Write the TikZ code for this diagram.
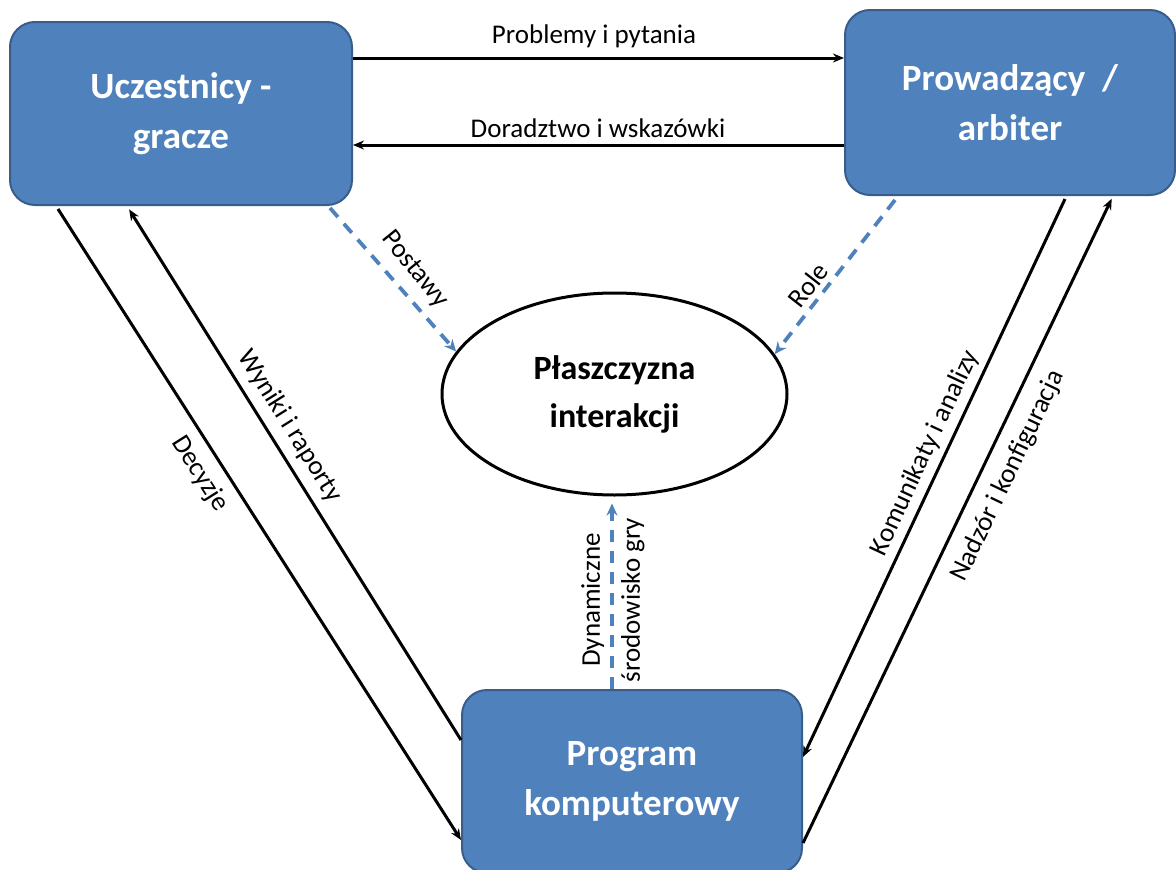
\documentclass[tikz,border=0pt]{standalone}
\usepackage{fontspec}
\setmainfont{Carlito}
\usetikzlibrary{arrows.meta,shapes.geometric}
\definecolor{boxblue}{RGB}{79,129,189}
\definecolor{boxborder}{RGB}{56,93,138}
\begin{document}
\begin{tikzpicture}[x=1pt,y=-1pt,
  actor/.style={draw=boxborder, line width=2pt, fill=boxblue, rounded corners=25pt,
    text=white, font=\fontsize{37}{50}\selectfont\bfseries, align=center, inner sep=0pt},
  plane/.style={ellipse, draw, line width=3pt, inner sep=0pt,
    font=\fontsize{34}{48}\selectfont\bfseries, align=center},
  flow/.style={line width=3pt, -{Stealth[length=11pt,width=9pt]}},
  infl/.style={line width=3.8pt, draw=boxblue, dash pattern=on 12pt off 9pt,
    -{Stealth[length=12pt,width=11pt,fill=boxblue]}},
  lab/.style={font=\fontsize{27}{40}\selectfont, inner sep=0pt, align=center},
]
\useasboundingbox (0,0) rectangle (1176,870);

\node[actor, minimum width=342pt, minimum height=183pt] (A) at (181,113.5) {Uczestnicy -\\gracze};
\node[actor, minimum width=330pt, minimum height=185pt] (B) at (1010,102.5) {Prowadzący~~/\\arbiter};
\node[actor, minimum width=340pt, minimum height=183pt] (C) at (632,781.5) {Program\\komputerowy};
\node[plane, minimum width=345pt, minimum height=202pt] (E) at (614.5,394) {Płaszczyzna\\interakcji};

% horizontal connectors
\draw[flow] ([yshift=55.5pt]A.east) -- ([yshift=44.5pt]B.west);
\draw[flow] ([yshift=-42.5pt]B.west) -- ([yshift=-31.5pt]A.east);
\node[lab] (l1) at (594,36) {Problemy i pytania};
\node[lab] (l2) at (598,128) {Doradztwo i wskazówki};

% left connectors
\draw[flow] ([xshift=-123pt,yshift=-3pt]A.south) -- ([yshift=-58.5pt]C.west);
\draw[flow, shorten >=4pt] ([yshift=41.5pt]C.west) -- ([xshift=-54pt]A.south);
\node[lab, rotate=-57.7] (l3) at (200,474) {Decyzje};
\node[lab, rotate=-57.9] (l4) at (290,426) {Wyniki i raporty};

% right connectors
\draw[flow] ([xshift=55pt,yshift=-3pt]B.south) -- ([yshift=24.5pt]C.east);
\draw[flow, shorten >=3pt] ([yshift=-61.5pt]C.east) -- ([xshift=103pt]B.south);
\node[lab, rotate=65] (l5) at (925,453) {Komunikaty i analizy};
\node[lab, rotate=64.5] (l6) at (1008,476) {Nadzór i konfiguracja};

% dashed influences
\draw[infl] ([xshift=149pt,yshift=-2pt]A.south) -- (E.165);
\draw[infl] ([xshift=-115pt,yshift=-4pt]B.south) -- (E.14);
\draw[infl, shorten >=7pt] ([xshift=-20pt]C.north) -- ([xshift=-20pt]C.north |- E.south);
\node[lab, rotate=-51] (l7) at (415,270) {Postawy};
\node[lab, rotate=52] (l8) at (808,285) {Role};
\node[lab, rotate=90] (l9) at (613,600) {Dynamiczne\\środowisko gry};
\end{tikzpicture}
\end{document}
